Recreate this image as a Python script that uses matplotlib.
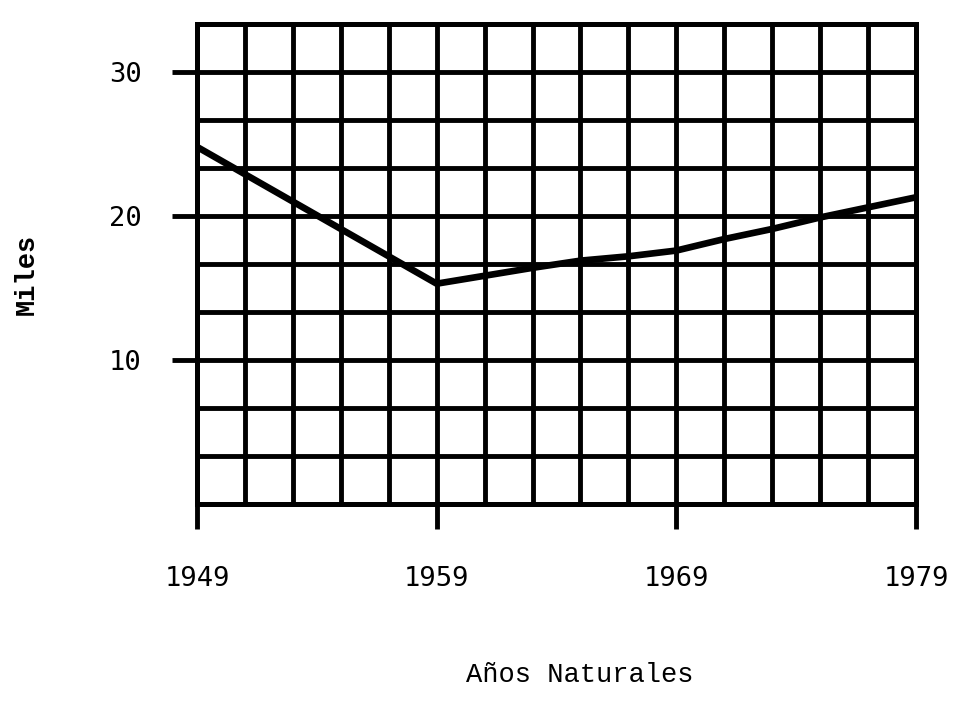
import numpy as np
import matplotlib
matplotlib.use("Agg")
import matplotlib.pyplot as plt

# data
years = [1949, 1959, 1963, 1965, 1967, 1969, 1971, 1973, 1975, 1977, 1979]
values = [24.8, 15.3, 16.4, 16.9, 17.2, 17.6, 18.4, 19.1, 19.9, 20.6, 21.3]
xtick_years = [1949, 1959, 1969, 1979]
ytick_values = [10, 20, 30]
ytick_labels = ["10", "20", "30"]
xlabel = "Años Naturales"
ylabel = "Miles"

fig = plt.figure(figsize=(9.61, 7.05), dpi=100)
ax = fig.add_axes([197/961, 1-504/705, (916-197)/961, (504-24)/705])

ax.plot(years, values, color="black", lw=4.8, solid_capstyle="butt", zorder=3)

ax.set_xlim(1949, 1979)
ax.set_ylim(0, 100/3)

ax.set_xticks(xtick_years)
ax.set_xticklabels([str(y) for y in xtick_years])
ax.set_yticks(ytick_values)
ax.set_yticklabels(ytick_labels)
ax.set_xticks(np.arange(1949, 1980, 2), minor=True)
ax.set_yticks(np.arange(0, 34, 10/3), minor=True)
ax.grid(which="both", color="black", lw=3.5)
ax.tick_params(which="minor", length=0)
ax.tick_params(which="major", length=18, width=3.5, pad=22, labelsize=19.5,
               color="black", direction="out")
ax.tick_params(axis="x", pad=27)
for lab in ax.get_xticklabels() + ax.get_yticklabels():
    lab.set_fontfamily("DejaVu Sans Mono")
for s in ax.spines.values():
    s.set_linewidth(3.6)
    s.set_color("black")

ax.set_xlabel(xlabel, fontsize=19.5, family="Liberation Mono", va="center")
ax.xaxis.set_label_coords((580-197)/719, (504-675)/480)
ax.set_ylabel(ylabel, fontsize=19.5, family="Liberation Mono", fontweight="bold", va="center")
ax.yaxis.set_label_coords((27-197)/719, (504-274)/480)

fig.savefig("out.png", dpi=100, facecolor="white")
